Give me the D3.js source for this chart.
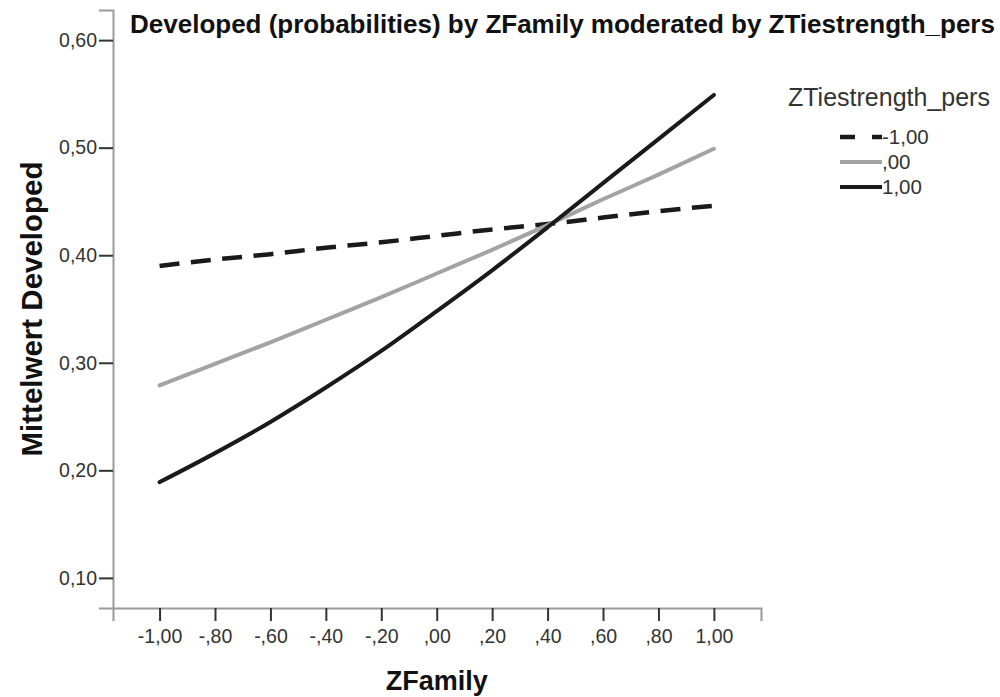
<!DOCTYPE html>
<html>
<head>
<meta charset="utf-8">
<script src="https://cdn.jsdelivr.net/npm/d3@7"></script>
<style>
  body { margin: 0; background: #fff; }
  text { font-family: "Liberation Sans", Arial, sans-serif; }
</style>
</head>
<body>
<div class="main_area"></div>
<script>
// ZFamily values at which the predicted probabilities were read
const zFamily = [-1.0, -0.8, -0.6, -0.4, -0.2, 0.0, 0.2, 0.4, 0.6, 0.8, 1.0];

// predicted probabilities, one series per ZTiestrength_pers level
const devLow  = [0.390, 0.396, 0.401, 0.407, 0.412, 0.418, 0.424, 0.429, 0.435, 0.441, 0.446];
const devMid  = [0.279, 0.299, 0.319, 0.340, 0.361, 0.383, 0.405, 0.428, 0.452, 0.475, 0.499];
const devHigh = [0.189, 0.216, 0.245, 0.277, 0.311, 0.348, 0.386, 0.426, 0.467, 0.508, 0.549];

const seriesNames = ["-1,00", ",00", "1,00"];

const xTicks = [-1.0, -0.8, -0.6, -0.4, -0.2, 0.0, 0.2, 0.4, 0.6, 0.8, 1.0];
const xTickLabels = ["-1,00", "-,80", "-,60", "-,40", "-,20", ",00", ",20", ",40", ",60", ",80", "1,00"];
const yTicks = [0.1, 0.2, 0.3, 0.4, 0.5, 0.6];
const yTickLabels = ["0,10", "0,20", "0,30", "0,40", "0,50", "0,60"];

function drawChart() {
  const width = 1000, height = 697;

  const svg = d3.select(".main_area")
    .append("svg")
    .attr("width", width)
    .attr("height", height)
    .style("display", "block");

  const xScale = d3.scaleLinear()
    .domain([-1.168, 1.17])
    .range([113, 761]);

  const yScale = d3.scaleLinear()
    .domain([0.072, 0.628])
    .range([608, 10]);

  // x axis
  const xAxis = d3.axisBottom(xScale)
    .tickValues(xTicks)
    .tickFormat((d, i) => xTickLabels[i])
    .tickSizeOuter(0)
    .tickSize(13)
    .tickPadding(8);

  const xAxisGroup = svg.append("g")
    .attr("transform", "translate(0,608)")
    .call(xAxis);
  xAxisGroup.select(".domain").attr("stroke", "#9a9a9a").attr("stroke-width", 2);
  xAxisGroup.selectAll(".tick line").attr("stroke", "#333").attr("stroke-width", 2);
  xAxisGroup.selectAll(".tick text")
    .attr("fill", "#333")
    .style("font-size", "19.5px");

  // y axis
  const yAxis = d3.axisLeft(yScale)
    .tickValues(yTicks)
    .tickFormat((d, i) => yTickLabels[i])
    .tickSizeOuter(0)
    .tickSize(14)
    .tickPadding(2);

  const yAxisGroup = svg.append("g")
    .attr("transform", "translate(113,0)")
    .call(yAxis);
  yAxisGroup.select(".domain").attr("stroke", "#9a9a9a").attr("stroke-width", 2);
  yAxisGroup.selectAll(".tick line").attr("stroke", "#333").attr("stroke-width", 2);
  yAxisGroup.selectAll(".tick text")
    .attr("fill", "#333")
    .style("font-size", "19.5px");

  // titles
  svg.append("text")
    .attr("x", 130)
    .attr("y", 33)
    .attr("fill", "#111")
    .style("font-size", "26px")
    .style("font-weight", "bold")
    .text("Developed (probabilities) by ZFamily moderated by ZTiestrength_pers");

  svg.append("text")
    .attr("x", xScale(0))
    .attr("y", 690)
    .attr("text-anchor", "middle")
    .attr("fill", "#111")
    .style("font-size", "27px")
    .style("font-weight", "bold")
    .text("ZFamily");

  svg.append("text")
    .attr("transform", "translate(42,309) rotate(-90)")
    .attr("text-anchor", "middle")
    .attr("fill", "#111")
    .style("font-size", "29.5px")
    .style("font-weight", "bold")
    .text("Mittelwert Developed");

  // curves
  const series = [
    {name: seriesNames[0], values: devLow,  stroke: "#1a1a1a", width: 4.5, dash: "20,11.5", legendDash: "15,17"},
    {name: seriesNames[1], values: devMid,  stroke: "#a3a3a3", width: 4,   dash: null, legendDash: null},
    {name: seriesNames[2], values: devHigh, stroke: "#1a1a1a", width: 4,   dash: null, legendDash: null}
  ];

  const line = d3.line()
    .x((d, i) => xScale(zFamily[i]))
    .y(d => yScale(d))
    .curve(d3.curveMonotoneX);

  svg.append("g")
    .attr("class", "curves")
    .selectAll("path")
    .data(series)
    .enter().append("path")
      .attr("d", d => line(d.values))
      .attr("fill", "none")
      .attr("stroke", d => d.stroke)
      .attr("stroke-width", d => d.width)
      .attr("stroke-dasharray", d => d.dash)
      .attr("stroke-linecap", d => d.dash ? "butt" : "round");

  // legend
  const legend = svg.append("g")
    .attr("class", "legend");

  legend.append("text")
    .attr("x", 788)
    .attr("y", 106)
    .attr("fill", "#333")
    .style("font-size", "25px")
    .text("ZTiestrength_pers");

  const items = legend.selectAll(".item")
    .data(series)
    .enter().append("g")
      .attr("class", "item")
      .attr("transform", (d, i) => "translate(0," + (137 + i * 25) + ")");

  items.append("line")
    .attr("x1", 840)
    .attr("x2", 882)
    .attr("stroke", d => d.stroke)
    .attr("stroke-width", d => d.width)
    .attr("stroke-dasharray", d => d.legendDash);

  items.append("text")
    .attr("x", 882)
    .attr("y", 7)
    .attr("fill", "#333")
    .style("font-size", "20.5px")
    .text(d => d.name);

  return svg;
}

drawChart();
</script>
</body>
</html>
